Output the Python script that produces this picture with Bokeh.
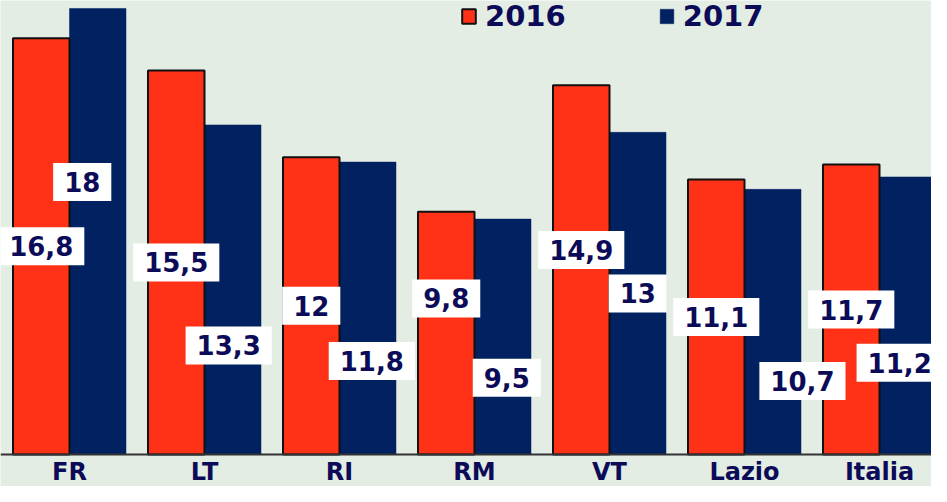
from bokeh.plotting import figure
from bokeh.models import ColumnDataSource, Range1d, Legend, LegendItem, Span
from bokeh.core.properties import value
from bokeh.embed import file_html
from bokeh.resources import INLINE

# ---- data ----
categories = ["FR", "LT", "RI", "RM", "VT", "Lazio", "Italia"]
values_2016 = [16.8, 15.5, 12.0, 9.8, 14.9, 11.1, 11.7]
values_2017 = [18.0, 13.3, 11.8, 9.5, 13.0, 10.7, 11.2]

# label anchor placement (data units) as in the original slide
label_y_2016 = [8.4, 7.75, 6.0, 6.3, 8.25, 5.55, 5.85]
label_y_2017 = [11.0, 4.4, 3.77, 3.1, 6.5, 2.97, 3.7]
label_dx_2017 = [-0.115, -0.03, 0.03, 0.03, 0.0, 0.22, -0.06]

# ---- styles ----
BG = "#e3ede4"
RED = "#ff3116"
NAVY = "#012160"
TXT = "#0b0b58"
FONT = "DejaVu Sans"
BAR_W = 0.4185
OFF = BAR_W / 2

def fmt(v):
    return f"{v:g}".replace(".", ",")

idx = list(range(len(categories)))
src16 = ColumnDataSource(dict(
    x=[i - OFF for i in idx], top=values_2016,
    ly=label_y_2016, lab=[fmt(v) for v in values_2016]))
src17 = ColumnDataSource(dict(
    x=[i + OFF for i in idx], top=values_2017,
    lx=[i + OFF + d for i, d in zip(idx, label_dx_2017)],
    ly=label_y_2017, lab=[fmt(v) for v in values_2017]))
src_cat = ColumnDataSource(dict(x=idx, y=[-0.14] * len(idx), t=categories))

W, H = 931, 486
p = figure(width=W, height=H, output_backend="svg", toolbar_location=None,
           x_range=Range1d(-69 / 135, (W - 69) / 135),
           y_range=Range1d(-1.2914, 18.3212),
           x_axis_location=None, y_axis_location=None, min_border=0)
p.background_fill_color = BG
p.border_fill_color = BG
p.outline_line_color = None
p.grid.visible = False

r17 = p.vbar(x="x", top="top", width=BAR_W, bottom=0, source=src17,
             fill_color=NAVY, line_color=NAVY, line_width=0.5)
r16 = p.vbar(x="x", top="top", width=BAR_W, bottom=0, source=src16,
             fill_color=RED, line_color="#111111", line_width=2)

p.add_layout(Span(location=0, dimension="width", line_color="#333333", line_width=2))

common = dict(text_align="center", text_baseline="middle",
              text_font=value(FONT), text_font_style="bold",
              text_font_size="26px", text_color=TXT,
              background_fill_color="white",
              padding=dict(left=11, right=11, top=9, bottom=9))
p.text(x="x", y="ly", text="lab", source=src16, **common)
p.text(x="lx", y="ly", text="lab", source=src17, **common)

p.text(x="x", y="y", text="t", source=src_cat, text_align="center",
       text_baseline="top", text_font=value(FONT), text_font_style="bold",
       text_font_size="24px", text_color=TXT)

legend = Legend(items=[LegendItem(label="2016", renderers=[r16]),
                       LegendItem(label="2017", renderers=[r17])],
                orientation="horizontal", location=(460, 453),
                glyph_width=17, glyph_height=18, label_standoff=8, spacing=92,
                padding=0, margin=0, background_fill_alpha=0, border_line_alpha=0,
                label_text_font=FONT, label_text_font_style="bold",
                label_text_font_size="29px", label_text_color=TXT)
p.add_layout(legend, "center")

open("out.html", "w").write(file_html(p, INLINE))
